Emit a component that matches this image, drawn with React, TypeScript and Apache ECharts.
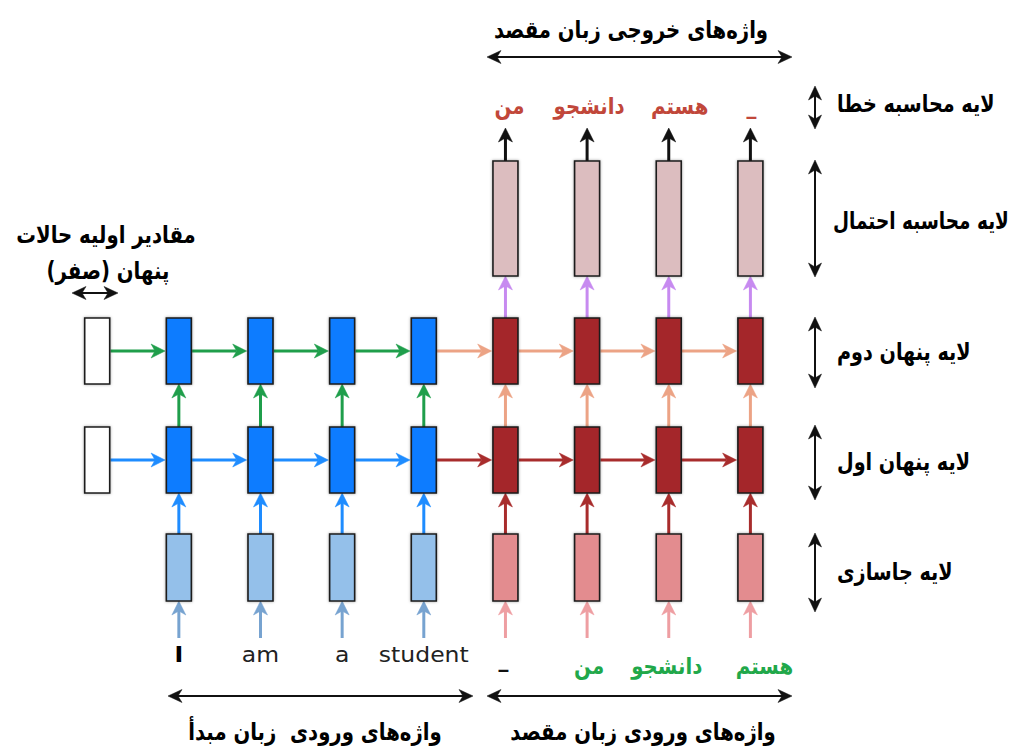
import React, { useEffect, useRef } from 'react';
import * as echarts from 'echarts';

// ---------------- data ----------------
const initStep = 0;
const sourceSteps = [1, 2, 3, 4];
const targetSteps = [5, 6, 7, 8];
const sourceWords = ['I', 'am', 'a', 'student'];
const targetInputWords = ['_', 'من', 'دانشجو', 'هستم'];
const outputWords = ['من', 'دانشجو', 'هستم', '_'];
const layerLabels = ['لایه محاسبه خطا', 'لایه محاسبه احتمال', 'لایه پنهان دوم', 'لایه پنهان اول', 'لایه جاسازی'];
const initLabelLines = ['مقادیر اولیه حالات', 'پنهان (صفر)'];
const topTitle = 'واژه\u200cهای خروجی زبان مقصد';
const bottomSourceTitle = 'واژه\u200cهای ورودی  زبان مبدأ';
const bottomTargetTitle = 'واژه\u200cهای ورودی زبان مقصد';

// ---------------- layout (axis units) ----------------
const STEP_PX = 81.65;
const STEP0_PX = 97.2;
const X_MIN = -STEP0_PX / STEP_PX;
const X_MAX = (1020 - STEP0_PX) / STEP_PX;
const px2step = (p: number) => (p - STEP0_PX) / STEP_PX;
const dxStep = (p: number) => p / STEP_PX;

const ROWS: Record<string, [number, number]> = {
  soft: [161, 276],
  h2: [318, 384],
  h1: [427, 493],
  emb: [534, 601],
};
const mid = (r: string) => (ROWS[r][0] + ROWS[r][1]) / 2;
const Y = {
  title: 30,
  topSpan: 57,
  output: 106,
  outTip: 128,
  inStart: 638,
  srcWord: 654,
  tgtWord: 666,
  tgtDash: 659,
  bottomSpan: 696,
  bottomTitle: 732,
  initSpan: 293,
  initLine1: 235,
  initLine2: 271,
};
const OUT_WORD_DX = [4, 2, 11, 1];
const IN_WORD_DX = [-2, 2, -2, 14];
const RIGHT_SPANS: [number, number][] = [[86, 129], [160, 277], [317, 388], [425, 500], [533, 612]];
const RIGHT_LABEL_Y = [104, 221, 352, 462, 572];

const COLORS = {
  init: '#ffffff',
  enc: '#0a7bff',
  encEmb: '#94c0ea',
  dec: '#a4282a',
  decEmb: '#e38c8f',
  soft: '#dcbdbf',
  blue: '#1e8cff',
  green: '#1f9e4b',
  red: '#a82c2c',
  salmon: '#eca385',
  purple: '#c78af0',
  black: '#111111',
  steel: '#77a3d0',
  pink: '#ee9ea2',
  outWord: '#c1473a',
  inWord: '#21a84a',
};

type Box = { step: number; row: string; fill: string };
const boxList: Box[] = [];
boxList.push({ step: initStep, row: 'h2', fill: COLORS.init }, { step: initStep, row: 'h1', fill: COLORS.init });
sourceSteps.forEach((s) => {
  boxList.push({ step: s, row: 'h2', fill: COLORS.enc }, { step: s, row: 'h1', fill: COLORS.enc }, { step: s, row: 'emb', fill: COLORS.encEmb });
});
targetSteps.forEach((s) => {
  boxList.push(
    { step: s, row: 'soft', fill: COLORS.soft },
    { step: s, row: 'h2', fill: COLORS.dec },
    { step: s, row: 'h1', fill: COLORS.dec },
    { step: s, row: 'emb', fill: COLORS.decEmb }
  );
});

type Arrow = { from: [number, number]; to: [number, number]; color: string; box?: boolean; double?: boolean; lw?: number; L?: number; W?: number };
const arrows: Arrow[] = [];
const encChain = [initStep, ...sourceSteps];
for (let i = 0; i < encChain.length - 1; i++) {
  arrows.push({ from: [encChain[i], mid('h1')], to: [encChain[i + 1], mid('h1')], color: COLORS.blue, box: true });
  arrows.push({ from: [encChain[i], mid('h2')], to: [encChain[i + 1], mid('h2')], color: COLORS.green, box: true });
}
const decChain = [sourceSteps[sourceSteps.length - 1], ...targetSteps];
for (let i = 0; i < decChain.length - 1; i++) {
  arrows.push({ from: [decChain[i], mid('h1')], to: [decChain[i + 1], mid('h1')], color: COLORS.red, box: true });
  arrows.push({ from: [decChain[i], mid('h2')], to: [decChain[i + 1], mid('h2')], color: COLORS.salmon, box: true });
}
sourceSteps.forEach((s) => {
  arrows.push({ from: [s, Y.inStart], to: [s, ROWS.emb[1]], color: COLORS.steel });
  arrows.push({ from: [s, ROWS.emb[0]], to: [s, ROWS.h1[1]], color: COLORS.blue });
  arrows.push({ from: [s, ROWS.h1[0]], to: [s, ROWS.h2[1]], color: COLORS.green });
});
targetSteps.forEach((s) => {
  arrows.push({ from: [s, Y.inStart], to: [s, ROWS.emb[1]], color: COLORS.pink });
  arrows.push({ from: [s, ROWS.emb[0]], to: [s, ROWS.h1[1]], color: COLORS.red });
  arrows.push({ from: [s, ROWS.h1[0]], to: [s, ROWS.h2[1]], color: COLORS.salmon });
  arrows.push({ from: [s, ROWS.h2[0]], to: [s, ROWS.soft[1]], color: COLORS.purple });
  arrows.push({ from: [s, ROWS.soft[0]], to: [s, Y.outTip], color: COLORS.black });
});
// double-headed span arrows
const dbl = (a: [number, number], b: [number, number]): Arrow => ({ from: a, to: b, color: COLORS.black, double: true, lw: 2, L: 14, W: 6.5 });
arrows.push(dbl([px2step(487), Y.topSpan], [px2step(792), Y.topSpan]));
arrows.push(dbl([px2step(168), Y.bottomSpan], [px2step(473), Y.bottomSpan]));
arrows.push(dbl([px2step(487), Y.bottomSpan], [px2step(792), Y.bottomSpan]));
arrows.push(dbl([px2step(72), Y.initSpan], [px2step(118), Y.initSpan]));
RIGHT_SPANS.forEach(([a, b]) => arrows.push(dbl([px2step(815), a], [px2step(815), b])));

type Txt = { text: string; x: number; y: number; color: string; size: number; weight: string; align: string; scaleX?: number };
const texts: Txt[] = [];
const FA = { size: 24, weight: 'bold', scaleX: 0.82 };
const faBold = (text: string, x: number, y: number, align = 'center', scaleX = FA.scaleX): Txt => ({ text, x, y, color: '#000', size: FA.size, weight: FA.weight, align, scaleX });
texts.push(faBold(topTitle, px2step(631), Y.title));
targetSteps.forEach((s, i) =>
  texts.push({ text: outputWords[i], x: s + dxStep(OUT_WORD_DX[i]), y: Y.output, color: COLORS.outWord, size: 23, weight: 'bold', align: 'center', scaleX: 0.86 })
);
sourceSteps.forEach((s, i) =>
  texts.push({ text: sourceWords[i], x: s, y: Y.srcWord, color: i === 0 ? '#000' : '#222', size: 21, weight: i === 0 ? 'bold' : 'normal', align: 'center', scaleX: 1.12 })
);
targetSteps.forEach((s, i) =>
  texts.push({
    text: targetInputWords[i],
    x: s + dxStep(IN_WORD_DX[i]),
    y: i === 0 ? Y.tgtDash : Y.tgtWord,
    color: i === 0 ? '#111' : COLORS.inWord,
    size: 23,
    weight: 'bold',
    align: 'center',
    scaleX: 0.86,
  })
);
layerLabels.forEach((l, i) => texts.push(faBold(l, px2step(i === 1 ? 833 : 837), RIGHT_LABEL_Y[i], 'left', i === 1 ? 0.77 : 0.8)));
texts.push(faBold(initLabelLines[0], px2step(106), Y.initLine1));
texts.push(faBold(initLabelLines[1], px2step(108), Y.initLine2));
texts.push(faBold(bottomSourceTitle, px2step(315), Y.bottomTitle));
texts.push(faBold(bottomTargetTitle, px2step(643), Y.bottomTitle));

// ---------------- rendering helpers ----------------
function arrowHead(tip: number[], dir: number[], L: number, W: number, color: string) {
  const n = [-dir[1], dir[0]];
  const back = [tip[0] - dir[0] * L, tip[1] - dir[1] * L];
  const notch = [tip[0] - dir[0] * (L - 4), tip[1] - dir[1] * (L - 4)];
  return {
    type: 'polygon',
    shape: {
      points: [
        tip,
        [back[0] + n[0] * W, back[1] + n[1] * W],
        notch,
        [back[0] - n[0] * W, back[1] - n[1] * W],
      ],
    },
    style: { fill: color, stroke: color, lineWidth: 0.5 },
  };
}

function buildOption() {
  return {
    animation: false,
    backgroundColor: '#ffffff',
    grid: { left: 0, right: 0, top: 0, bottom: 0 },
    xAxis: { type: 'value', min: X_MIN, max: X_MAX, show: false },
    yAxis: { type: 'value', min: 0, max: 749, inverse: true, show: false },
    series: [
      {
        type: 'custom',
        name: 'arrows',
        silent: true,
        z: 1,
        data: arrows.map((a) => [a.from[0], a.from[1]]),
        renderItem: (params: any, api: any) => {
          const a = arrows[params.dataIndex];
          let p1 = api.coord(a.from);
          let p2 = api.coord(a.to);
          const dx = p2[0] - p1[0];
          const dy = p2[1] - p1[1];
          const len = Math.sqrt(dx * dx + dy * dy);
          const dir = [dx / len, dy / len];
          if (a.box) {
            p1 = [p1[0] + dir[0] * 13.3, p1[1] + dir[1] * 13.3];
            p2 = [p2[0] - dir[0] * 13.8, p2[1] - dir[1] * 13.8];
          }
          const L = a.L ?? 14;
          const W = a.W ?? 7;
          const lw = a.lw ?? 3;
          const s = a.double ? [p1[0] + dir[0] * (L - 4), p1[1] + dir[1] * (L - 4)] : p1;
          const e = [p2[0] - dir[0] * (L - 4), p2[1] - dir[1] * (L - 4)];
          const children: any[] = [
            { type: 'line', shape: { x1: s[0], y1: s[1], x2: e[0], y2: e[1] }, style: { stroke: a.color, lineWidth: lw } },
            arrowHead(p2, dir, L, W, a.color),
          ];
          if (a.double) children.push(arrowHead(p1, [-dir[0], -dir[1]], L, W, a.color));
          return { type: 'group', children };
        },
      },
      {
        type: 'custom',
        name: 'cells',
        silent: true,
        z: 2,
        data: boxList.map((b) => [b.step, ROWS[b.row][0]]),
        renderItem: (params: any, api: any) => {
          const b = boxList[params.dataIndex];
          const r = ROWS[b.row];
          const t = api.coord([b.step, r[0]]);
          const bt = api.coord([b.step, r[1]]);
          return {
            type: 'rect',
            shape: { x: t[0] - 12.5, y: t[1], width: 25, height: bt[1] - t[1] },
            style: {
              fill: b.fill,
              stroke: '#1c1c1c',
              lineWidth: 1.6,
              shadowBlur: 3,
              shadowColor: 'rgba(0,0,0,0.35)',
            },
          };
        },
      },
      {
        type: 'custom',
        name: 'labels',
        silent: true,
        z: 3,
        data: texts.map((t) => [t.x, t.y]),
        renderItem: (params: any, api: any) => {
          const t = texts[params.dataIndex];
          const p = api.coord([t.x, t.y]);
          return {
            type: 'text',
            x: p[0],
            y: p[1],
            scaleX: t.scaleX ?? 1,
            style: {
              text: t.text,
              fill: t.color,
              fontSize: t.size,
              fontWeight: t.weight,
              fontFamily: '"DejaVu Sans", sans-serif',
              align: t.align,
              textAlign: t.align,
              verticalAlign: 'middle',
              textVerticalAlign: 'middle',
            },
          };
        },
      },
    ],
  };
}

export default function App() {
  const ref = useRef<HTMLDivElement>(null);
  useEffect(() => {
    document.body.style.margin = '0';
    const chart = echarts.init(ref.current as HTMLDivElement, null, { renderer: 'svg' });
    chart.setOption(buildOption() as any);
    return () => chart.dispose();
  }, []);
  return (
    <div
      ref={ref}
      style={{ width: 1020, height: 749, position: 'fixed', left: 0, top: 0, background: '#ffffff' }}
    />
  );
}
